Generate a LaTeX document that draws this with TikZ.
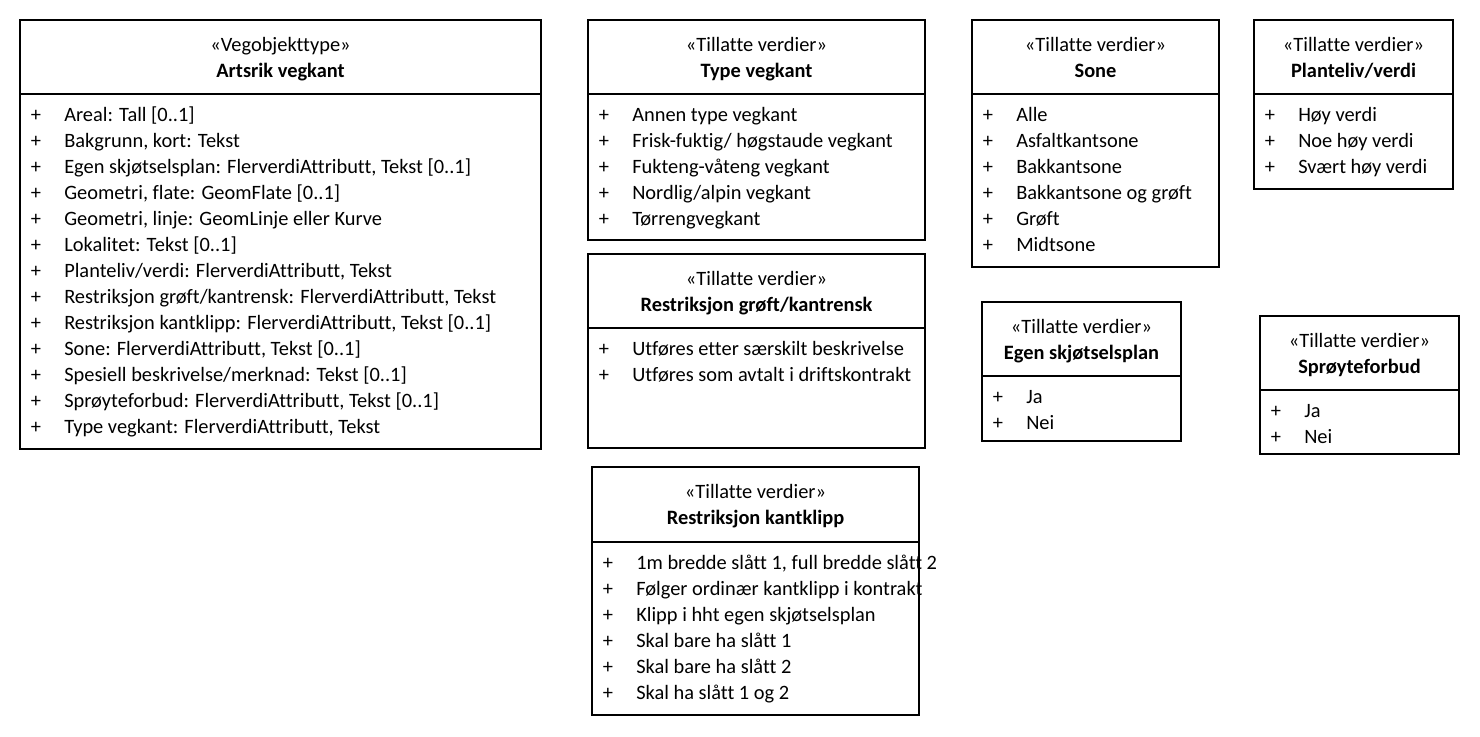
\documentclass[tikz,border=0pt]{standalone}
\usepackage{fontspec}
\setmainfont{Carlito}[Ligatures={NoCommon}]
\newcommand\fsz{\fontsize{15.3}{18}\selectfont}
\tikzset{
  box/.style={draw, line width=1.5pt},
  ster/.style={font=\fsz, anchor=base, inner sep=0pt},
  ttl/.style={font=\fsz\bfseries, anchor=base, inner sep=0pt},
  itm/.style={font=\fsz, anchor=base west, inner sep=0pt},
}
% id x1 y1 x2 y2 ydiv stereo title
\newcommand\UBox[8]{%
  \draw[box] (#2,#3) rectangle (#4,#5);
  \draw[box] (#2,#6) -- (#4,#6);
  \node[ster] (#1s) at ({(#2+#4)/2},{#3+31}) {#7};
  \node[ttl] (#1t) at ({(#2+#4)/2},{#3+57}) {#8};
}
% id x1 ydiv list
\newcommand\UItems[4]{%
  \foreach \t [count=\i from 0] in {#4} {
    \node[itm] (#1p\i) at ({#2+10.5},{#3+27+26*\i}) {+};
    \node[itm] (#1i\i) at ({#2+44},{#3+27+26*\i}) {\t};
  }
}
\begin{document}
\begin{tikzpicture}[x=0.75pt,y=-0.75pt]
\useasboundingbox (0,0) rectangle (1480,736);

\UBox{a}{20}{20}{541}{449}{94}{«Vegobjekttype»}{Artsrik vegkant}
\UItems{a}{20}{94}{{Areal: Tall [0..1]},{Bakgrunn, kort: Tekst},{Egen skjøtselsplan: FlerverdiAttributt, Tekst [0..1]},{Geometri, flate: GeomFlate [0..1]},{Geometri, linje: GeomLinje eller Kurve},{Lokalitet: Tekst [0..1]},{Planteliv/verdi: FlerverdiAttributt, Tekst},{Restriksjon grøft/kantrensk: FlerverdiAttributt, Tekst},{Restriksjon kantklipp: FlerverdiAttributt, Tekst [0..1]},{Sone: FlerverdiAttributt, Tekst [0..1]},{Spesiell beskrivelse/merknad: Tekst [0..1]},{Sprøyteforbud: FlerverdiAttributt, Tekst [0..1]},{Type vegkant: FlerverdiAttributt, Tekst}}

\UBox{b}{588}{20}{925}{240}{94}{«Tillatte verdier»}{Type vegkant}
\UItems{b}{588}{94}{{Annen type vegkant},{Frisk-fuktig/ høgstaude vegkant},{Fukteng-våteng vegkant},{Nordlig/alpin vegkant},{Tørrengvegkant}}

\UBox{c}{588}{254}{925}{448}{328}{«Tillatte verdier»}{Restriksjon grøft/kantrensk}
\UItems{c}{588}{328}{{Utføres etter særskilt beskrivelse},{Utføres som avtalt i driftskontrakt}}

\UBox{d}{592}{467}{919}{715}{542}{«Tillatte verdier»}{Restriksjon kantklipp}
\UItems{d}{592}{542}{{1m bredde slått 1, full bredde slått 2},{Følger ordinær kantklipp i kontrakt},{Klipp i hht egen skjøtselsplan},{Skal bare ha slått 1},{Skal bare ha slått 2},{Skal ha slått 1 og 2}}

\UBox{e}{972}{20}{1219}{267}{94}{«Tillatte verdier»}{Sone}
\UItems{e}{972}{94}{{Alle},{Asfaltkantsone},{Bakkantsone},{Bakkantsone og grøft},{Grøft},{Midtsone}}

\UBox{f}{1254}{20}{1453}{189}{94}{«Tillatte verdier»}{Planteliv/verdi}
\UItems{f}{1254}{94}{{Høy verdi},{Noe høy verdi},{Svært høy verdi}}

\UBox{g}{982}{302}{1181}{441}{376}{«Tillatte verdier»}{Egen skjøtselsplan}
\UItems{g}{982}{376}{{Ja},{Nei}}

\UBox{h}{1260}{316}{1459}{454}{390}{«Tillatte verdier»}{Sprøyteforbud}
\UItems{h}{1260}{390}{{Ja},{Nei}}
\end{tikzpicture}
\end{document}
